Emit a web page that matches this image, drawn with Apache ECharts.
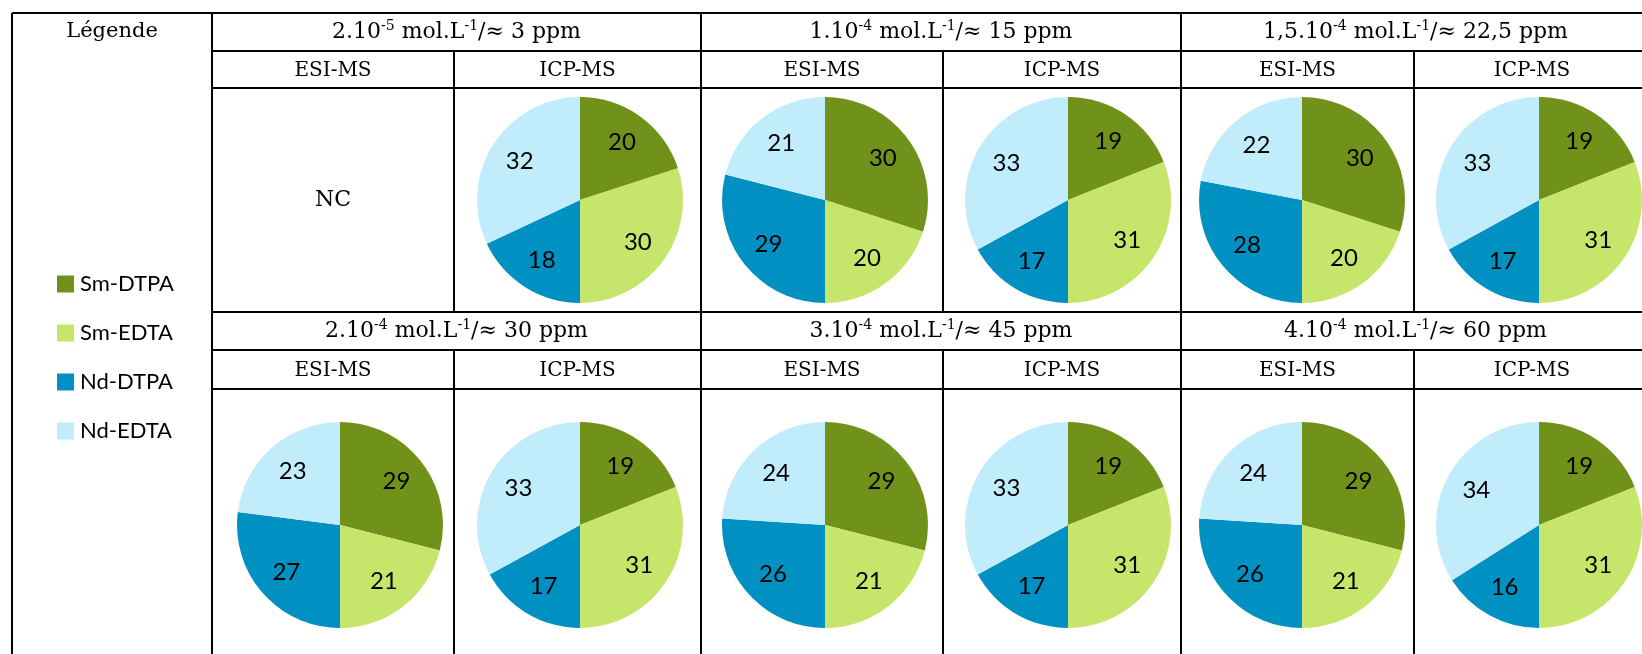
<!DOCTYPE html>
<html><head><meta charset="utf-8">
<script src="https://cdn.jsdelivr.net/npm/echarts@6/dist/echarts.min.js"></script>
<style>html,body{margin:0;padding:0;background:#fff}#c{width:1642px;height:654px}</style>
</head><body><div id="c"></div>
<script>
// ---- data ----
const categories = ['Sm-DTPA', 'Sm-EDTA', 'Nd-DTPA', 'Nd-EDTA'];
const colors = ['#71921a', '#c5e66b', '#0091c2', '#c0ecfb'];
const concMantissa = ['2.10', '1.10', '1,5.10', '2.10', '3.10', '4.10'];
const concExponent = ['-5', '-4', '-4', '-4', '-4', '-4'];
const concPpm = ['3', '15', '22,5', '30', '45', '60'];
const methods = ['ESI-MS', 'ICP-MS'];
const legendTitle = 'Légende';
const notCommunicated = 'NC';
// values in order [Sm-DTPA, Sm-EDTA, Nd-DTPA, Nd-EDTA]
const esi_3ppm = null;
const icp_3ppm = [20, 30, 18, 32];
const esi_15ppm = [30, 20, 29, 21];
const icp_15ppm = [19, 31, 17, 33];
const esi_22_5ppm = [30, 20, 28, 22];
const icp_22_5ppm = [19, 31, 17, 33];
const esi_30ppm = [29, 21, 27, 23];
const icp_30ppm = [19, 31, 17, 33];
const esi_45ppm = [29, 21, 26, 24];
const icp_45ppm = [19, 31, 17, 33];
const esi_60ppm = [29, 21, 26, 24];
const icp_60ppm = [19, 31, 16, 34];
const pieValues = [
  [esi_3ppm, icp_3ppm], [esi_15ppm, icp_15ppm], [esi_22_5ppm, icp_22_5ppm],
  [esi_30ppm, icp_30ppm], [esi_45ppm, icp_45ppm], [esi_60ppm, icp_60ppm]
];

// ---- layout ----
const COLX = [212, 454, 701, 943, 1181, 1414, 1650];
const ROWY = [{ hdr: [13, 51], sub: [51, 88], body: [88, 312] }, { hdr: [312, 350], sub: [350, 389], body: [389, 654] }];
const pieCX = [340, 580, 825, 1068, 1302, 1539];
const pieCY = [200, 525];
const R = 103;
const SERIF = '"DejaVu Serif", "Liberation Serif", serif';
const SANS = 'Lato, "Open Sans", sans-serif';

const graphics = [];
function line(x1, y1, x2, y2) {
  graphics.push({ type: 'line', silent: true, shape: { x1, y1, x2, y2 }, style: { stroke: '#000', lineWidth: 2 } });
}
function text(x, y, t, size, rich) {
  const st = { text: t, x, y, align: 'center', verticalAlign: 'middle', fill: '#000', fontSize: size, fontFamily: SERIF };
  if (rich) st.rich = rich;
  graphics.push({ type: 'text', silent: true, style: st });
}
// horizontal lines
line(12, 13, 1642, 13);
[51, 88, 312, 350, 389].forEach(y => line(212, y, 1642, y));
// vertical lines
line(12, 13, 12, 654);
line(212, 13, 212, 654);
[701, 1181].forEach(x => line(x, 13, x, 654));
[454, 943, 1414].forEach(x => { line(x, 51, x, 312); line(x, 350, x, 654); });

text(112, 32, legendTitle, 21);
const rich = {
  n: { fontSize: 22, fontFamily: SERIF, fill: '#000', lineHeight: 26 },
  s: { fontSize: 14, fontFamily: SERIF, fill: '#000', lineHeight: 14, verticalAlign: 'top' }
};
const series = [];
for (let g = 0; g < 6; g++) {
  const row = Math.floor(g / 3);
  const c0 = (g % 3) * 2;
  const R0 = ROWY[row];
  const gx = (COLX[c0] + COLX[c0 + 2]) / 2;
  const hdr = '{n|' + concMantissa[g] + '}{s|' + concExponent[g] + '}{n| mol.L}{s|-1}{n|/≈ ' + concPpm[g] + ' ppm}';
  text(gx, (R0.hdr[0] + R0.hdr[1]) / 2, hdr, 22, rich);
  for (let m = 0; m < 2; m++) {
    const col = c0 + m;
    const cx = (COLX[col] + COLX[col + 1]) / 2;
    text(cx, (R0.sub[0] + R0.sub[1]) / 2 + 1, methods[m], 20);
    const vals = pieValues[g][m];
    if (!vals) {
      text(cx, pieCY[row], notCommunicated, 22);
      continue;
    }
    const data = categories.map((name, i) => ({ name, value: vals[i] }));
    series.push({
      type: 'pie', silent: true, center: [pieCX[col], pieCY[row]], radius: [0, R],
      startAngle: 90, clockwise: true, label: { show: false }, labelLine: { show: false },
      itemStyle: { borderWidth: 0 }, emphasis: { disabled: true }, data
    });
    series.push({
      type: 'pie', silent: true, center: [pieCX[col], pieCY[row]], radius: [34, R],
      startAngle: 90, clockwise: true, labelLine: { show: false },
      itemStyle: { color: 'rgba(0,0,0,0)', borderWidth: 0 }, emphasis: { disabled: true },
      label: { show: true, position: 'inside', formatter: '{c}', color: '#000', fontFamily: SANS, fontSize: 24, textBorderWidth: 0 },
      data: data.map(d => ({ name: d.name, value: d.value }))
    });
  }
}

const chart = echarts.init(document.getElementById('c'), null, { renderer: 'canvas' });
chart.setOption({
  animation: false,
  color: colors,
  legend: {
    orient: 'vertical', left: 57, top: 273, icon: 'rect', itemWidth: 17, itemHeight: 17, itemGap: 27,
    selectedMode: false, padding: 0,
    data: categories.map((n, i) => ({ name: n, itemStyle: { color: colors[i] } })),
    textStyle: { fontFamily: SANS, fontSize: 22, color: '#000', lineHeight: 17, padding: [0, 0, 0, 1] }
  },
  graphic: graphics,
  series
});
</script></body></html>
